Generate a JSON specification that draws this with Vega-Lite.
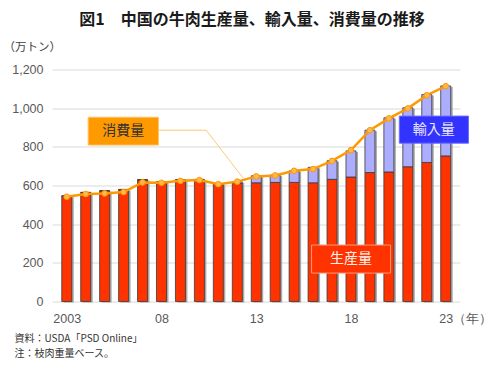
{
  "$schema": "https://vega.github.io/schema/vega-lite/v6.json",
  "autosize": "none",
  "width": 408,
  "height": 232,
  "padding": {"left": 52, "top": 69.5, "right": 40, "bottom": 67.5},
  "background": "white",
  "config": {"view": {"stroke": null}, "font": "Noto Sans CJK JP"},
  "title": {
    "text": "図1　中国の牛肉生産量、輸入量、消費量の推移",
    "font": "Noto Sans CJK JP",
    "fontSize": 16,
    "fontWeight": "bold",
    "color": "#1a1a1a",
    "anchor": "middle",
    "dx": -4,
    "offset": 14
  },
  "datasets": {
    "beef": [
      {"year": 2003, "production": 545, "imports": 2, "consumption": 542},
      {"year": 2004, "production": 563, "imports": 2, "consumption": 556},
      {"year": 2005, "production": 572, "imports": 2, "consumption": 559},
      {"year": 2006, "production": 578, "imports": 2, "consumption": 566},
      {"year": 2007, "production": 629, "imports": 2, "consumption": 616},
      {"year": 2008, "production": 618, "imports": 2, "consumption": 614},
      {"year": 2009, "production": 628, "imports": 3, "consumption": 624},
      {"year": 2010, "production": 629, "imports": 3, "consumption": 628},
      {"year": 2011, "production": 607, "imports": 3, "consumption": 607},
      {"year": 2012, "production": 612, "imports": 7, "consumption": 620},
      {"year": 2013, "production": 614, "imports": 36, "consumption": 647},
      {"year": 2014, "production": 616, "imports": 38, "consumption": 652},
      {"year": 2015, "production": 616, "imports": 60, "consumption": 676},
      {"year": 2016, "production": 614, "imports": 80, "consumption": 685},
      {"year": 2017, "production": 632, "imports": 96, "consumption": 727},
      {"year": 2018, "production": 644, "imports": 135, "consumption": 783},
      {"year": 2019, "production": 667, "imports": 219, "consumption": 886},
      {"year": 2020, "production": 670, "imports": 280, "consumption": 947},
      {"year": 2021, "production": 697, "imports": 305, "consumption": 999},
      {"year": 2022, "production": 719, "imports": 352, "consumption": 1067},
      {"year": 2023, "production": 753, "imports": 362, "consumption": 1114}
    ],
    "leader": [
      {"year": 2007.84, "value": 886},
      {"year": 2010.36, "value": 886},
      {"year": 2012.31, "value": 638}
    ],
    "boxes": [
      {"label": "消費量", "year": 2004.13, "year2": 2007.84, "value": 953, "value2": 809, "cx": 2005.98, "cy": 881},
      {"label": "輸入量", "year": 2020.55, "year2": 2024.2, "value": 959, "value2": 819, "cx": 2022.37, "cy": 889},
      {"label": "生産量", "year": 2015.92, "year2": 2020.09, "value": 292, "value2": 147, "cx": 2018.0, "cy": 220}
    ]
  },
  "encoding": {
    "x": {
      "field": "year", "type": "quantitative",
      "scale": {"domain": [2002.485, 2023.49], "nice": false, "zero": false},
      "axis": {
        "values": [2003, 2008, 2013, 2018, 2023],
        "labelExpr": "datum.value == 2003 ? '2003' : (datum.value == 2023 ? '23（年）' : substring(toString(datum.value), 2))",
        "labelAlign": {"condition": {"test": "datum.value == 2023", "value": "left"}, "value": "center"},
        "labelOffset": {"condition": {"test": "datum.value == 2023", "value": -7}, "value": 0},
        "grid": false, "domain": false, "ticks": false,
        "labelPadding": 11,
        "labelFont": "Liberation Sans", "labelFontSize": 12.5, "labelColor": "#595959",
        "title": ["資料：USDA「PSD Online」", "注：枝肉重量ベース。"],
        "titleFont": "Noto Sans CJK JP", "titleFontSize": 10, "titleFontWeight": "normal",
        "titleColor": "#333333", "titleAnchor": "start", "titleAlign": "left",
        "titleBaseline": "top", "titleX": -38, "titleY": 32, "titleLineHeight": 14.5
      }
    },
    "y": {
      "field": "value", "type": "quantitative",
      "scale": {"domain": [0, 1200], "nice": false},
      "axis": {
        "values": [0, 200, 400, 600, 800, 1000, 1200],
        "labelExpr": "format(datum.value, ',.0f')",
        "grid": true, "gridColor": "#D9D9D9", "gridWidth": 1,
        "domain": false, "ticks": false,
        "labelPadding": 9,
        "labelFont": "Liberation Sans", "labelFontSize": 12.5, "labelColor": "#595959",
        "title": "（万トン）",
        "titleFont": "Noto Sans CJK JP", "titleFontSize": 11.5, "titleFontWeight": "normal",
        "titleColor": "#404040", "titleAngle": 0, "titleAlign": "left", "titleBaseline": "middle",
        "titleX": -49, "titleY": -22
      }
    }
  },
  "layer": [
    {
      "data": {"name": "beef"},
      "transform": [{"fold": ["production", "imports"], "as": ["series", "value"]}],
      "mark": {"type": "bar", "width": 10, "color": "#8c8c8c", "opacity": 0.75, "xOffset": 2, "yOffset": 1},
      "encoding": {
        "y": {"field": "value", "type": "quantitative", "stack": "zero"},
        "detail": {"field": "series"}
      }
    },
    {
      "data": {"name": "beef"},
      "transform": [{"fold": ["production", "imports"], "as": ["series", "value"]}],
      "mark": {"type": "bar", "width": 10, "stroke": "#3a3a3a", "strokeWidth": 0.8},
      "encoding": {
        "y": {"field": "value", "type": "quantitative", "stack": "zero"},
        "color": {
          "field": "series", "type": "nominal",
          "scale": {"domain": ["production", "imports"], "range": ["#FF3300", "#ADADFF"]},
          "legend": null
        }
      }
    },
    {
      "data": {"name": "beef"},
      "mark": {"type": "line", "color": "#FF9900", "strokeWidth": 2.5,
        "point": {"filled": true, "fill": "#FFB84D", "stroke": "#FF9900", "strokeWidth": 1, "size": 32}},
      "encoding": {
        "y": {"field": "consumption", "type": "quantitative"}
      }
    },
    {
      "data": {"name": "leader"},
      "mark": {"type": "line", "color": "#FFC878", "strokeWidth": 1},
      "encoding": {}
    },
    {
      "data": {"name": "boxes"},
      "transform": [{"filter": "datum.label == '消費量'"}],
      "mark": {"type": "rect", "fill": "#FF9900", "stroke": "#FFC266", "strokeWidth": 1},
      "encoding": {"x2": {"field": "year2"}, "y2": {"field": "value2"}}
    },
    {
      "data": {"name": "boxes"},
      "transform": [{"filter": "datum.label == '輸入量'"}],
      "mark": {"type": "rect", "fill": "#3333FF", "stroke": "#6B6BFF", "strokeWidth": 1},
      "encoding": {"x2": {"field": "year2"}, "y2": {"field": "value2"}}
    },
    {
      "data": {"name": "boxes"},
      "transform": [{"filter": "datum.label == '生産量'"}],
      "mark": {"type": "rect", "fill": "#FF3300", "stroke": "#FF9977", "strokeWidth": 1},
      "encoding": {"x2": {"field": "year2"}, "y2": {"field": "value2"}}
    },
    {
      "data": {"name": "boxes"},
      "mark": {"type": "text", "fontSize": 14, "align": "center", "baseline": "middle", "font": "Noto Sans CJK JP"},
      "encoding": {
        "x": {"field": "cx", "type": "quantitative"},
        "y": {"field": "cy", "type": "quantitative"},
        "text": {"field": "label"},
        "color": {
          "field": "label", "type": "nominal",
          "scale": {"domain": ["消費量", "輸入量", "生産量"], "range": ["#333333", "#E8E8FF", "#FFF2EE"]},
          "legend": null
        }
      }
    }
  ],
  "resolve": {"scale": {"color": "independent"}}
}
